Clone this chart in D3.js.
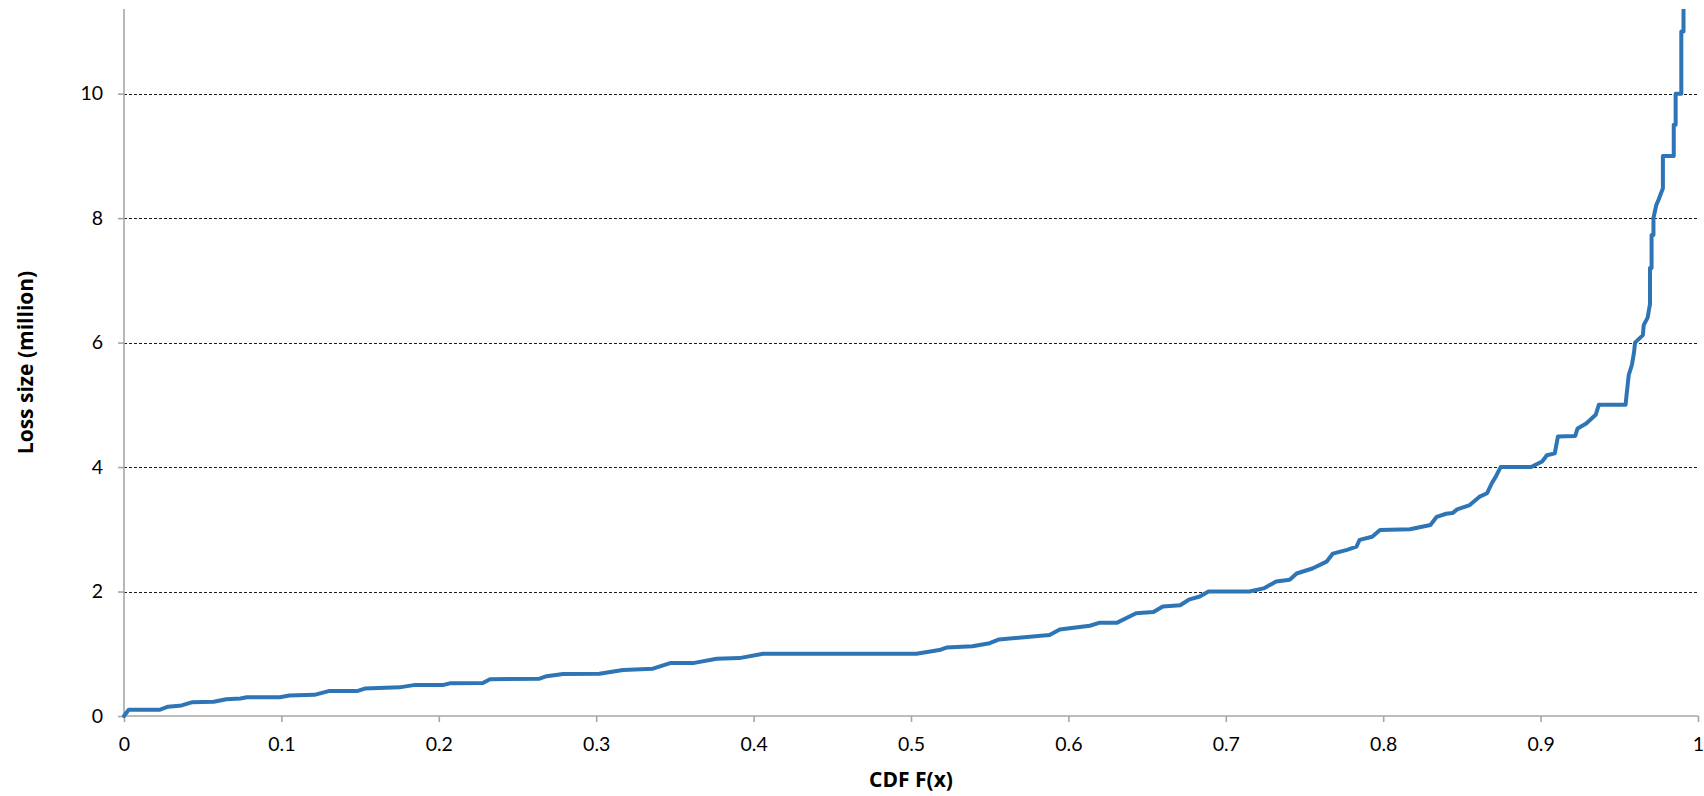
<!DOCTYPE html>
<html>
<head>
<meta charset="utf-8">
<script src="https://cdn.jsdelivr.net/npm/d3@7"></script>
<style>
  html, body { margin: 0; padding: 0; background: #fff; }
  svg { display: block; font-family: Lato, "Open Sans", sans-serif; }
</style>
</head>
<body>
<svg id="chart" width="1704" height="796"></svg>
<script>
// Empirical CDF of loss sizes: cumulative probability vs loss (million)
const cdfValues = [
  0, 0.003, 0.0225, 0.028, 0.0366, 0.043, 0.057, 0.065, 0.074, 0.078,
  0.099, 0.105, 0.121, 0.13, 0.148, 0.153, 0.175, 0.185, 0.203, 0.207,
  0.228, 0.2325, 0.264, 0.2685, 0.279, 0.302, 0.317, 0.336, 0.347, 0.3615,
  0.3765, 0.391, 0.406, 0.5035, 0.518, 0.5225, 0.539, 0.55, 0.556, 0.588,
  0.5945, 0.6136, 0.62, 0.631, 0.643, 0.654, 0.66, 0.671, 0.677, 0.6835,
  0.689, 0.715, 0.724, 0.732, 0.7406, 0.745, 0.755, 0.764, 0.768, 0.777,
  0.783, 0.785, 0.793, 0.798, 0.817, 0.83, 0.834, 0.84, 0.844, 0.847,
  0.855, 0.861, 0.866, 0.869, 0.872, 0.8746, 0.894, 0.901, 0.904, 0.909,
  0.911, 0.922, 0.9235, 0.929, 0.935, 0.937, 0.954, 0.9545, 0.956, 0.958,
  0.9594, 0.96, 0.965, 0.9655, 0.968, 0.9695, 0.9695, 0.9705, 0.9705, 0.9717,
  0.9717, 0.9735, 0.975, 0.9777, 0.9777, 0.9846, 0.9846, 0.9858, 0.9858, 0.9894,
  0.9894, 0.9908, 0.9908
];
const lossValues = [
  0, 0.1, 0.1, 0.15, 0.17, 0.22, 0.23, 0.27, 0.28, 0.30,
  0.30, 0.33, 0.34, 0.40, 0.40, 0.44, 0.46, 0.50, 0.50, 0.525,
  0.53, 0.59, 0.60, 0.64, 0.675, 0.68, 0.74, 0.76, 0.85, 0.85,
  0.92, 0.93, 1.0, 1.0, 1.06, 1.1, 1.12, 1.17, 1.23, 1.30,
  1.39, 1.45, 1.5, 1.5, 1.65, 1.67, 1.76, 1.78, 1.875, 1.92,
  2.0, 2.0, 2.05, 2.16, 2.19, 2.29, 2.37, 2.48, 2.61, 2.67,
  2.72, 2.83, 2.88, 2.99, 3.0, 3.07, 3.2, 3.25, 3.26, 3.32,
  3.39, 3.52, 3.58, 3.74, 3.87, 4.0, 4.0, 4.09, 4.19, 4.22,
  4.49, 4.5, 4.62, 4.70, 4.84, 5.0, 5.0, 5.13, 5.48, 5.64,
  5.85, 6.0, 6.12, 6.28, 6.4, 6.62, 7.2, 7.2, 7.73, 7.73,
  8.0, 8.21, 8.3, 8.48, 9.0, 9.0, 9.5, 9.5, 10.0, 10.0,
  11.0, 11.0, 11.6
];
const xTicks = [0, 0.1, 0.2, 0.3, 0.4, 0.5, 0.6, 0.7, 0.8, 0.9, 1];
const yTicks = [0, 2, 4, 6, 8, 10];
const xTitle = "CDF F(x)";
const yTitle = "Loss size (million)";

const width = 1704, height = 796;
const margin = { top: 9, right: 6, bottom: 80, left: 124 };
const innerW = width - margin.left - margin.right;
const innerH = height - margin.top - margin.bottom;

const svg = d3.select("#chart");
const g = svg.append("g").attr("transform", `translate(${margin.left},${margin.top})`);

const x = d3.scaleLinear().domain([0, 1]).range([0, innerW]);
const y = d3.scaleLinear().domain([0, 11.36]).range([innerH, 0]);

// dashed horizontal gridlines
g.append("g")
  .selectAll("line")
  .data(yTicks.filter(d => d > 0))
  .join("line")
  .attr("x1", 0).attr("x2", innerW)
  .attr("y1", d => Math.round(y(d)) + 0.5).attr("y2", d => Math.round(y(d)) + 0.5)
  .attr("stroke", "#1a1a1a")
  .attr("stroke-width", 1)
  .attr("stroke-dasharray", "3,2");

// axes
const axisColor = "#a6a6a6";
const xAxis = g.append("g")
  .attr("transform", `translate(0,${innerH})`)
  .call(d3.axisBottom(x).tickValues(xTicks).tickFormat(d3.format("")).tickSize(6).tickPadding(15));
const yAxis = g.append("g")
  .call(d3.axisLeft(y).tickValues(yTicks).tickFormat(d3.format("")).tickSize(6).tickPadding(15));

[xAxis, yAxis].forEach(a => {
  a.select(".domain").attr("stroke", axisColor).attr("stroke-width", 1.6);
  a.selectAll(".tick line").attr("stroke", axisColor).attr("stroke-width", 1.6);
  a.selectAll(".tick text")
    .attr("fill", "#000")
    .style("font-size", "19.5px")
    .style("font-family", "Lato, 'Open Sans', sans-serif");
});
// y axis line runs the full plot height, without the end ticks of the domain path
yAxis.select(".domain").attr("d", `M0,${innerH}V0`);
xAxis.select(".domain").attr("d", `M0,0H${innerW}`);

// clip so the tail of the curve stops at the top of the plot
svg.append("defs").append("clipPath").attr("id", "plot-clip")
  .append("rect").attr("x", -4).attr("y", 0).attr("width", innerW + 8).attr("height", innerH + 4);

const points = cdfValues.map((c, i) => [c, lossValues[i]]);
const line = d3.line().x(d => x(d[0])).y(d => y(d[1]));

g.append("path")
  .datum(points)
  .attr("clip-path", "url(#plot-clip)")
  .attr("fill", "none")
  .attr("stroke", "#2e75b6")
  .attr("stroke-width", 4)
  .attr("stroke-linejoin", "round")
  .attr("stroke-linecap", "round")
  .attr("d", line);

// axis titles
const titleFont = "'Open Sans', Lato, sans-serif";
svg.append("text")
  .attr("x", margin.left + innerW / 2)
  .attr("y", 787)
  .attr("text-anchor", "middle")
  .style("font-family", titleFont)
  .style("font-size", "21px")
  .style("font-weight", "bold")
  .text(xTitle);

svg.append("text")
  .attr("transform", `translate(33,${margin.top + innerH / 2}) rotate(-90)`)
  .attr("text-anchor", "middle")
  .style("font-family", titleFont)
  .style("font-size", "21px")
  .style("font-weight", "bold")
  .text(yTitle);
</script>
</body>
</html>
